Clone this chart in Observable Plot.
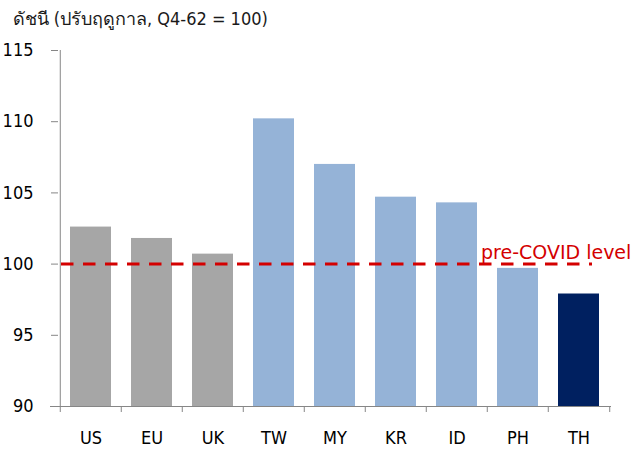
<!DOCTYPE html>
<html>
<head>
<meta charset="utf-8">
<script src="https://cdn.jsdelivr.net/npm/d3@7"></script>
<script src="https://cdn.jsdelivr.net/npm/@observablehq/plot@0.6"></script>
<style>
  html, body { margin: 0; padding: 0; background: #fff; }
</style>
</head>
<body>
<div id="chart"></div>
<script>
const title = "ดัชนี (ปรับฤดูกาล, Q4-62 = 100)";
const categories = ["US", "EU", "UK", "TW", "MY", "KR", "ID", "PH", "TH"];
const values = [102.6, 101.8, 100.7, 110.2, 107.0, 104.7, 104.3, 99.7, 97.9];
const groups = ["adv", "adv", "adv", "asia", "asia", "asia", "asia", "asia", "th"];
const groupDomain = ["adv", "asia", "th"];
const groupColors = ["#a6a6a6", "#95b3d7", "#002060"];
const yTicks = [90, 95, 100, 105, 110, 115];
const preCovid = 100;
const preCovidLabel = "pre-COVID level";

const data = categories.map((c, i) => ({cat: c, value: values[i], group: groups[i]}));

const W = 641, H = 451;
const mL = 58, mR = 30, mT = 50, mB = 45;
const step = (W - mL - mR) / categories.length;
const axisColor = "#868686";

const chart = Plot.plot({
  width: W,
  height: H,
  marginLeft: mL,
  marginRight: mR,
  marginTop: mT,
  marginBottom: mB,
  style: {fontFamily: "'DejaVu Sans Condensed', 'DejaVu Sans', sans-serif", fontSize: "18px", color: "#000", background: "#fff"},
  x: {domain: categories, paddingInner: 0.32, paddingOuter: 0.16, label: null, axis: null},
  y: {domain: [yTicks[0], yTicks[yTicks.length - 1]], label: null, axis: null},
  color: {domain: groupDomain, range: groupColors},
  marks: [
    Plot.barY(data, {x: "cat", y1: yTicks[0], y2: "value", fill: "group"}),
    Plot.ruleY([preCovid], {stroke: "#d40000", strokeWidth: 3, strokeDasharray: "12.5,9.5", insetLeft: 3, insetRight: 19}),
    Plot.text([preCovidLabel], {x: () => "PH", y: () => preCovid, text: d => d, textAnchor: "start", lineAnchor: "bottom", dx: -37, dy: -5, fill: "#d40000", fontSize: 19, fontFamily: "'DejaVu Sans', sans-serif"}),
    // axes
    Plot.ruleY([yTicks[0]], {stroke: axisColor, insetLeft: -8}),
    Plot.ruleX([categories[0]], {y1: yTicks[0], y2: yTicks[yTicks.length - 1], dx: -step / 2, stroke: axisColor}),
    Plot.axisY(yTicks, {tickSize: 7, tickPadding: 18, fontSize: 18, stroke: axisColor, color: "#000", label: null}),
    Plot.axisX({tickSize: 6, fill: "none", dx: -step / 2, stroke: axisColor, label: null}),
    Plot.axisX([categories[categories.length - 1]], {tickSize: 6, fill: "none", dx: step / 2, stroke: axisColor, label: null}),
    Plot.axisX({tickSize: 0, tickPadding: 25, fontSize: 18, color: "#000", label: null}),
    Plot.text([title], {frameAnchor: "top-left", text: d => d, textAnchor: "start", lineAnchor: "top", dx: -46, dy: -38, fontSize: 18, fill: "#1a1a1a"})
  ]
});
document.getElementById("chart").appendChild(chart);
</script>
</body>
</html>
